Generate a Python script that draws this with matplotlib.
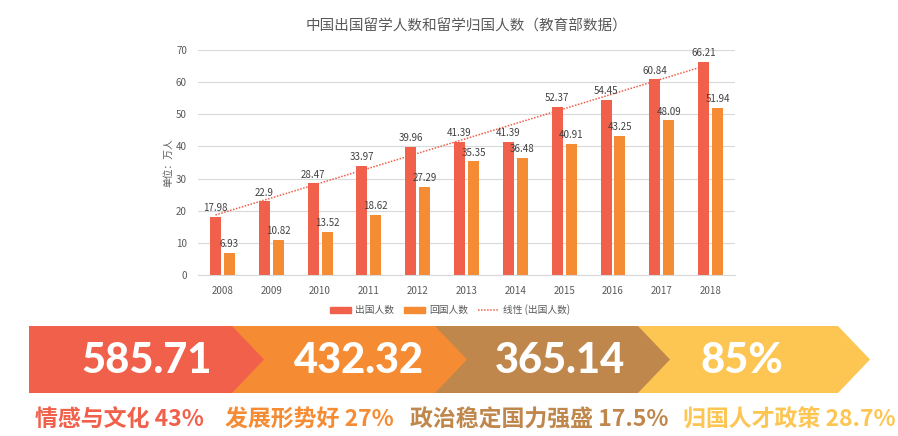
import matplotlib.pyplot as plt
import numpy as np
from matplotlib.patches import Polygon, Patch
from matplotlib.lines import Line2D

plt.rcParams['font.family'] = ['Noto Sans CJK SC', 'DejaVu Sans']

years = ['2008', '2009', '2010', '2011', '2012', '2013', '2014', '2015', '2016', '2017', '2018']
outbound = [17.98, 22.9, 28.47, 33.97, 39.96, 41.39, 41.39, 52.37, 54.45, 60.84, 66.21]
returned = [6.93, 10.82, 13.52, 18.62, 27.29, 35.35, 36.48, 40.91, 43.25, 48.09, 51.94]

big_numbers = ['585.71', '432.32', '365.14', '85%']
reasons = ['情感与文化 43%', '发展形势好 27%', '政治稳定国力强盛 17.5%', '归国人才政策 28.7%']

RED = '#F0604A'
ORANGE = '#F58B33'
BROWN = '#C0874C'
YELLOW = '#FDC552'
band_colors = [RED, ORANGE, BROWN, YELLOW]

fig = plt.figure(figsize=(8.98, 4.36), dpi=100)

# --- bar chart ---
ax = fig.add_axes([0.2205, 0.3693, 0.598, 0.516])
x = np.arange(len(years))
w = 0.225
gap = 0.03
xr = x - w / 2 - gap
xo = x + w / 2 + gap
ax.bar(xr, outbound, width=w, color=RED, zorder=2)
ax.bar(xo, returned, width=w, color=ORANGE, zorder=2)

# linear trend of outbound
k, b = np.polyfit(x, outbound, 1)
ax.plot(xr, k * x + b, color=RED, linestyle=(0, (1, 1)), linewidth=1.1, zorder=3)

for xi, v in zip(xr, outbound):
    ax.text(xi, v + 1.2, f'{v:g}', ha='center', va='bottom', fontsize=7, color='#404040')
for xi, v in zip(xo, returned):
    ax.text(xi, v + 1.2, f'{v:g}', ha='center', va='bottom', fontsize=7, color='#404040')

ax.set_xlim(-0.5, len(years) - 0.5)
ax.set_ylim(0, 70)
ax.set_yticks(range(0, 71, 10))
ax.set_xticks(x)
ax.set_xticklabels(years)
ax.tick_params(length=0, labelsize=7, colors='#595959', pad=8)
ax.grid(axis='y', color='#D9D9D9', linewidth=0.8, zorder=0)
for s in ['top', 'right', 'left']:
    ax.spines[s].set_visible(False)
ax.spines['bottom'].set_color('#D9D9D9')
ax.set_ylabel('单位：万人', fontsize=7, color='#595959', labelpad=2)
ax.set_title('中国出国留学人数和留学归国人数（教育部数据）', fontsize=10.5, color='#595959', pad=14)

handles = [Patch(color=RED), Patch(color=ORANGE),
           Line2D([], [], color=RED, linestyle=(0, (1, 1)), linewidth=1.1)]
fig.legend(handles, ['出国人数', '回国人数', '线性 (出国人数)'], loc='center',
           bbox_to_anchor=(450 / 898, 1 - 310 / 436), ncol=3, frameon=False,
           fontsize=7, labelcolor='#595959', handlelength=2.2, handleheight=0.6,
           columnspacing=1.0, handletextpad=0.4)

# --- bottom chevron banner (pixel coords) ---
bx = fig.add_axes([0, 0, 1, 1], zorder=-1)
bx.set_xlim(0, 898)
bx.set_ylim(436, 0)
bx.axis('off')

lefts = [29, 232, 435, 635]
seg = 203
tip = 32
top, bot = 326, 393
mid = (top + bot) / 2
for i in reversed(range(4)):
    l = lefts[i]
    pts = [(l, top), (l + seg, top), (l + seg + tip, mid), (l + seg, bot), (l, bot)]
    bx.add_patch(Polygon(pts, closed=True, color=band_colors[i], lw=0))

num_x = [147, 359, 560, 742]
for cx, t in zip(num_x, big_numbers):
    bx.text(cx, mid + 1, t, ha='center', va='center', color='white',
            fontsize=30, fontweight='black', family=['Lato', 'DejaVu Sans'])

reason_x = [35, 225, 410, 683]
for lx, t, c in zip(reason_x, reasons, band_colors):
    bx.text(lx, 420, t, ha='left', va='center', color=c, fontsize=16.5, fontweight='bold')

fig.savefig('out.png', dpi=100)
